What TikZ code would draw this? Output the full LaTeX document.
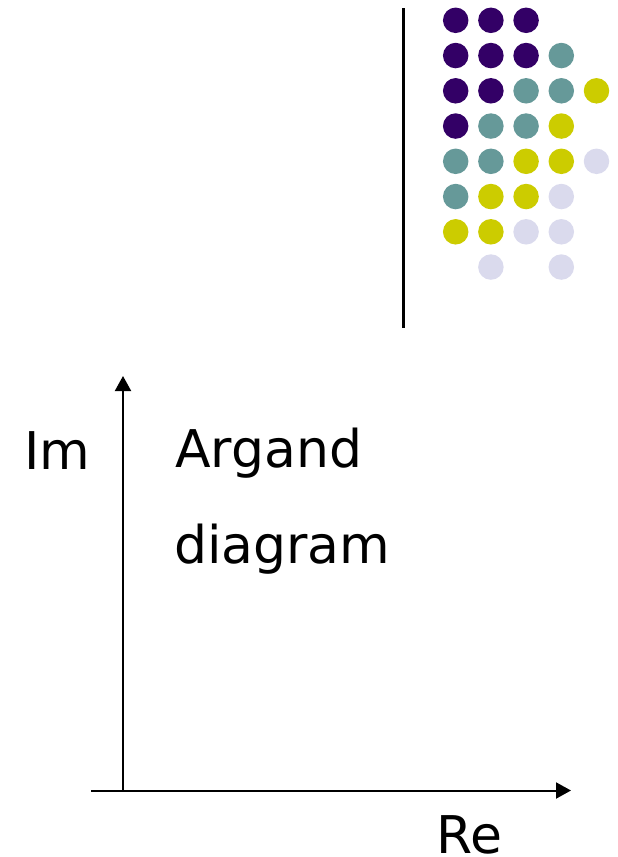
\documentclass[tikz,border=0pt]{standalone}
\usepackage{fontspec}
\setmainfont{DejaVu Sans}
\usetikzlibrary{arrows.meta}
\definecolor{cpurple}{HTML}{330066}
\definecolor{cteal}{HTML}{669999}
\definecolor{cyellow}{HTML}{CCCC00}
\definecolor{clav}{HTML}{DADAED}
\begin{document}
\begin{tikzpicture}[x=1pt,y=-1pt,
  lbl/.style={inner sep=0pt,anchor=base west,font=\fontsize{52}{60}\selectfont},
  axis/.style={line width=2pt,-{Triangle[width=16pt,length=15pt]}},
  dot/.style={circle,inner sep=0pt,minimum size=25.5pt}]
\useasboundingbox (0,0) rectangle (618,857);
% divider
\draw[line width=3pt] (403.7,8) -- (403.7,328);
% dots
\def\dx{35.2}\def\dy{35.25}
\foreach \r/\cols in {0/{0/cpurple,1/cpurple,2/cpurple},
  1/{0/cpurple,1/cpurple,2/cpurple,3/cteal},
  2/{0/cpurple,1/cpurple,2/cteal,3/cteal,4/cyellow},
  3/{0/cpurple,1/cteal,2/cteal,3/cyellow},
  4/{0/cteal,1/cteal,2/cyellow,3/cyellow,4/clav},
  5/{0/cteal,1/cyellow,2/cyellow,3/clav},
  6/{0/cyellow,1/cyellow,2/clav,3/clav},
  7/{1/clav,3/clav}}{
  \foreach \c/\col in \cols {
    \node[dot,fill=\col] (d\r\c) at ({455.7+\c*\dx},{20.3+\r*\dy}) {};
  }
}
% axes
\coordinate (o) at (123,790.5);
\coordinate (ytip) at (123,376);
\coordinate (xstart) at (91,790.5);
\coordinate (xtip) at (571,790.5);
\draw[axis] (o) -- (ytip);
\draw[axis] (xstart) -- (xtip);
% labels
\node[lbl] (im) at (24,469) {Im};
\node[lbl] (arg) at (175,467) {Argand};
\node[lbl] (dia) at (174,563) {diagram};
\node[lbl,text depth=0pt] (re) at (436,853) {Re};
\end{tikzpicture}
\end{document}
